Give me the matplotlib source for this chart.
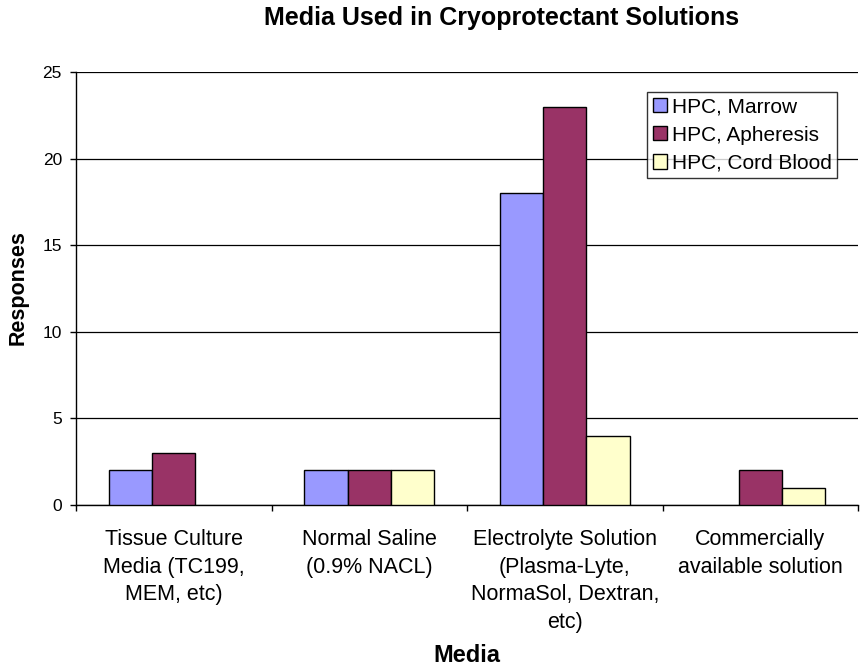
import matplotlib
matplotlib.use("Agg")
import matplotlib.pyplot as plt
from matplotlib.patches import Patch
import numpy as np

plt.rcParams['font.family'] = ['Liberation Sans', 'DejaVu Sans']

categories = [
    "Tissue Culture\nMedia (TC199,\nMEM, etc)",
    "Normal Saline\n(0.9% NACL)",
    "Electrolyte Solution\n(Plasma-Lyte,\nNormaSol, Dextran,\netc)",
    "Commercially\navailable solution",
]
series_names = ["HPC, Marrow", "HPC, Apheresis", "HPC, Cord Blood"]
marrow = [2, 2, 18, 0]
apheresis = [3, 2, 23, 2]
cord_blood = [0, 2, 4, 1]
colors = ["#9999FF", "#993366", "#FFFFCC"]

W, H = 860, 666
fig = plt.figure(figsize=(W / 100, H / 100), dpi=100)
ax = fig.add_axes([76 / W, 1 - 505 / H, (858 - 76) / W, (505 - 72) / H])

x = np.arange(len(categories))
width = 1 / 4.5
for i, vals in enumerate([marrow, apheresis, cord_blood]):
    vals = np.array(vals, dtype=float)
    # zero-height bars are given no outline so they leave no mark on the axis
    lw = np.where(vals > 0, 1.0, 0.0)
    ax.bar(x + (i - 1) * width, vals, width, color=colors[i], edgecolor="black",
           linewidth=lw, zorder=3)

ax.set_xlim(-0.5, len(categories) - 0.5)
ax.set_ylim(0, 25)
ax.set_yticks([0, 5, 10, 15, 20, 25])
ax.yaxis.grid(True, color="black", linewidth=0.9, zorder=0)
ax.set_axisbelow(True)

ax.set_xticks(np.arange(len(categories) + 1) - 0.5, minor=False)
ax.set_xticklabels([])
ax.set_xticks(x, minor=True)
ax.set_xticklabels(categories, minor=True, fontsize=15.5, linespacing=1.4)
ax.tick_params(axis="x", which="minor", length=0, pad=17.5)
ax.tick_params(axis="x", which="major", length=4.5, width=1, direction="out")
ax.tick_params(axis="y", length=4.5, width=1, direction="out", labelsize=12.5, pad=5.6)

for side in ["top", "right"]:
    ax.spines[side].set_visible(False)
ax.spines["left"].set_linewidth(1.0)
ax.spines["bottom"].set_linewidth(1.0)

ax.set_ylabel("Responses", fontsize=15.5, fontweight="bold", va="center")
ax.yaxis.set_label_coords((18 - 76) / (858 - 76), (505 - 288) / (505 - 72))
ax.set_xlabel("Media", fontsize=17, fontweight="bold", va="center")
ax.xaxis.set_label_coords(0.5, (505 - 655) / (505 - 72))

fig.text(502 / W, 1 - 18 / H, "Media Used in Cryoprotectant Solutions",
         ha="center", va="center", fontsize=18, fontweight="bold")

handles = [Patch(facecolor=c, edgecolor="black", linewidth=1.0) for c in colors]
leg = ax.legend(handles, series_names, loc="upper right",
                bbox_to_anchor=(837 / W, 1 - 92 / H), bbox_transform=fig.transFigure,
                fontsize=15, frameon=True, fancybox=False, shadow=False,
                handlelength=0.68, handleheight=0.68, handletextpad=0.25,
                borderpad=0.25, labelspacing=0.45, borderaxespad=0)
leg.get_frame().set_edgecolor("black")
leg.get_frame().set_linewidth(1.0)

fig.savefig("out.png", dpi=100)
